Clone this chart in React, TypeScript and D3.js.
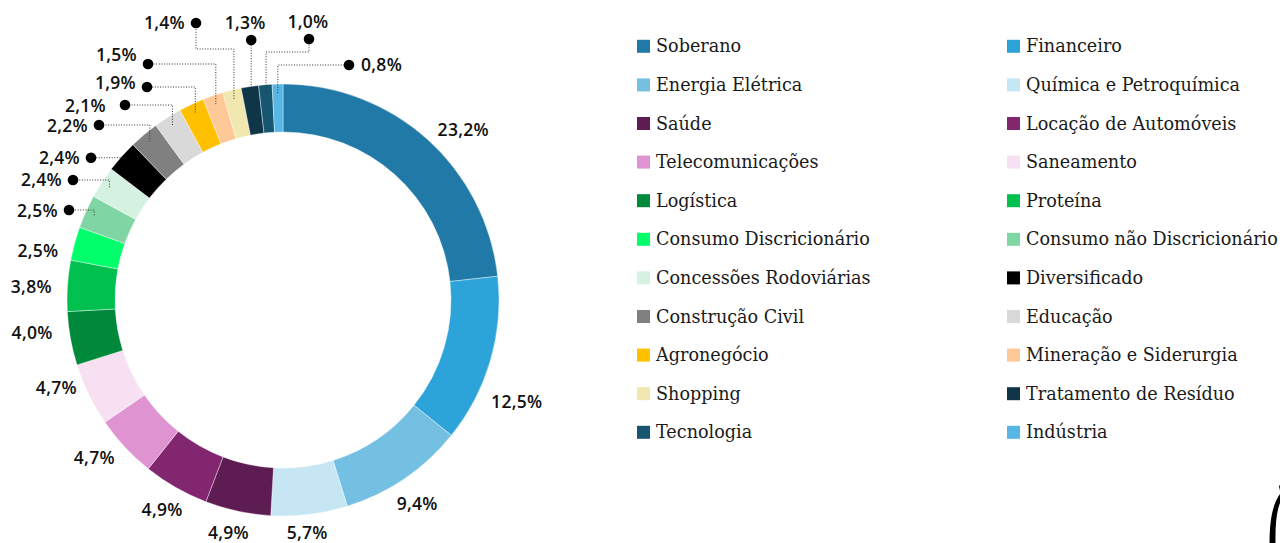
import React, { useMemo } from 'react';
import * as d3 from 'd3';

// sectors, clockwise from 12 o'clock
const categories = [
  'Soberano', 'Financeiro', 'Energia Elétrica', 'Química e Petroquímica',
  'Saúde', 'Locação de Automóveis', 'Telecomunicações', 'Saneamento',
  'Logística', 'Proteína', 'Consumo Discricionário', 'Consumo não Discricionário',
  'Concessões Rodoviárias', 'Diversificado', 'Construção Civil', 'Educação',
  'Agronegócio', 'Mineração e Siderurgia', 'Shopping', 'Tratamento de Resíduo',
  'Tecnologia', 'Indústria',
];
const shares = [
  23.2, 12.5, 9.4, 5.7, 4.9, 4.9, 4.7, 4.7, 4.0, 3.8, 2.5, 2.5,
  2.4, 2.4, 2.2, 2.1, 1.9, 1.5, 1.4, 1.3, 1.0, 0.8,
];
const palette = [
  '#2079a6', '#2ca3d9', '#74c0e3', '#c6e6f3', '#5e1d52', '#82266f',
  '#df94d1', '#f6e0f2', '#00893a', '#00c050', '#00ff6a', '#7fd5a4',
  '#d5f1e2', '#000000', '#808080', '#d9d9d9', '#ffc000', '#ffc897',
  '#f0e8ae', '#0f3548', '#175670', '#57b6e3',
];

interface Slice { name: string; value: number; color: string }

const W = 1280;
const H = 543;
const CX = 283;
const CY = 300;
const R_OUT = 216;
const R_IN = 168;

// outside labels for the bigger sectors: angle nudge (deg) and radius
const labelLayout: Record<string, { dA: number; r: number }> = {
  'Soberano': { dA: 4.8, r: 248 },
  'Financeiro': { dA: 7.3, r: 255 },
  'Energia Elétrica': { dA: 0.9, r: 244 },
  'Química e Petroquímica': { dA: 1.1, r: 234 },
  'Saúde': { dA: 1.1, r: 239 },
  'Locação de Automóveis': { dA: 0.2, r: 242 },
  'Telecomunicações': { dA: 3, r: 246 },
  'Saneamento': { dA: 4.8, r: 243 },
  'Logística': { dA: 2.8, r: 253 },
  'Proteína': { dA: -0.8, r: 252 },
  'Consumo Discricionário': { dA: -3.7, r: 250 },
};

// callouts with dotted leaders for the small sectors
type Callout = { dot: [number | null, number | null]; side: 'left' | 'top' | 'right'; elbow?: number; gap?: number; dx?: number; dy?: number; r?: number };
const callouts: Record<string, Callout> = {
  'Consumo não Discricionário': { dot: [69, 210], side: 'left', dy: 1 },
  'Concessões Rodoviárias': { dot: [73, 180], side: 'left' },
  'Diversificado': { dot: [91, null], side: 'left', r: 214 },
  'Construção Civil': { dot: [99, 125], side: 'left', dy: 1 },
  'Educação': { dot: [125, 105], side: 'left', gap: 19, dy: 1 },
  'Agronegócio': { dot: [147, 87], side: 'left', dy: -4 },
  'Mineração e Siderurgia': { dot: [148, 64], side: 'left', dy: -9 },
  'Shopping': { dot: [196, 23], side: 'left', elbow: 49 },
  'Tratamento de Resíduo': { dot: [null, 40], side: 'top', dx: -6 },
  'Tecnologia': { dot: [309, 39], side: 'top', elbow: 52, dx: -1 },
  'Indústria': { dot: [349, 65], side: 'right' },
};

const ptBR = d3.formatLocale({ decimal: ',', thousands: '.', grouping: [3], currency: ['R$', ''] });
const fmt = (v: number) => ptBR.format('.1f')(v) + '%';

const labelFont = { fontFamily: '"Open Sans", sans-serif', fontWeight: 600, fontSize: 17.5, letterSpacing: 0.3 };

export default function App() {
  const data: Slice[] = categories.map((name, i) => ({ name, value: shares[i], color: palette[i] }));

  const arcs = useMemo(() => d3.pie<Slice>().sort(null).value(d => d.value)(data), []);
  const arc = d3.arc<d3.PieArcDatum<Slice>>().innerRadius(R_IN).outerRadius(R_OUT);
  const polar = (a: number, r: number): [number, number] => [r * Math.sin(a), -r * Math.cos(a)];

  const rowY = d3.scaleLinear().domain([0, 10]).range([52.3, 438.3]);
  const colX = [637, 1007];
  const leader = d3.line();

  return (
    <div style={{ position: 'absolute', left: 0, top: 0 }}>
      <svg width={W} height={H} style={{ display: 'block', background: '#fff' }}>
        <g transform={`translate(${CX},${CY})`}>
          {arcs.map(a => (
            <path key={a.data.name} d={arc(a) || ''} fill={a.data.color} stroke="#fff" strokeWidth={0.4} />
          ))}
          {arcs.map(a => {
            const lay = labelLayout[a.data.name];
            if (!lay) return null;
            const mid = (a.startAngle + a.endAngle) / 2 + (lay.dA * Math.PI) / 180;
            const [x, y] = polar(mid, lay.r);
            return (
              <text key={'l' + a.data.name} x={x} y={y} dy="0.36em" textAnchor="middle" fill="#111" style={labelFont}>
                {fmt(a.data.value)}
              </text>
            );
          })}
        </g>
        {arcs.map(a => {
          const c = callouts[a.data.name];
          if (!c) return null;
          const mid = (a.startAngle + a.endAngle) / 2;
          const [px, py] = polar(mid, c.r ?? 207);
          const ex = CX + px;
          const ey = CY + py;
          const dx = c.dot[0] ?? ex;
          const dy = c.dot[1] ?? ey;
          const elbow = c.elbow ?? dy;
          const pts: [number, number][] = [[ex, ey], [ex, elbow], [dx, elbow], [dx, dy]];
          let tx = dx, ty = dy + (c.dy ?? 0), anchor = 'end';
          if (c.side === 'left') tx = dx - (c.gap ?? 11);
          if (c.side === 'right') { tx = dx + 12; anchor = 'start'; }
          if (c.side === 'top') { tx = dx + (c.dx ?? 0); ty = dy - 17; anchor = 'middle'; }
          return (
            <g key={'c' + a.data.name}>
              <path d={leader(pts) || ''} fill="none" stroke="#333" strokeWidth={1} strokeDasharray="1,1.6" />
              <circle cx={dx} cy={dy} r={5.3} fill="#000" />
              <text x={tx} y={ty} dy="0.36em" textAnchor={anchor} fill="#111" style={labelFont}>
                {fmt(a.data.value)}
              </text>
            </g>
          );
        })}
        <g>
          {data.map((d, i) => {
            const x = colX[i % 2];
            const y = rowY(Math.floor(i / 2));
            return (
              <g key={'lg' + d.name}>
                <rect x={x} y={y - 12.5} width={13} height={13} fill={d.color} />
                <text x={x + 19} y={y} fill="#1a1a1a" style={{ fontFamily: '"DejaVu Serif", serif', fontSize: 17.6 }}>
                  {d.name}
                </text>
              </g>
            );
          })}
        </g>
        <path d="M1279,486 L1280,485 L1280,491 Z" fill="#000" />
        <path d="M1280,494 Q1269.5,508 1269.5,543 L1275.5,543 Q1275,515 1280,503 Z" fill="#000" />
      </svg>
    </div>
  );
}
